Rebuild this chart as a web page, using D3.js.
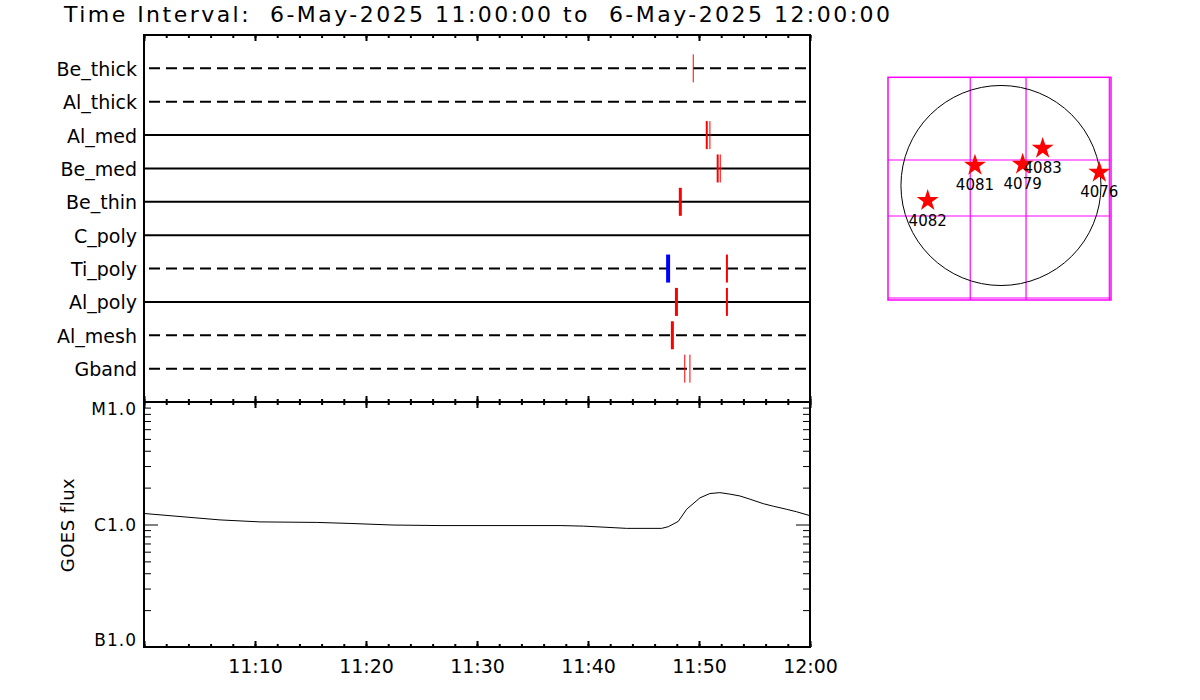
<!DOCTYPE html>
<html>
<head>
<meta charset="utf-8">
<script src="https://cdn.jsdelivr.net/npm/d3@7"></script>
<style>
  html, body { margin: 0; padding: 0; background: #ffffff; }
  svg { display: block; font-family: "DejaVu Sans", sans-serif; }
</style>
</head>
<body>
<svg id="chart" width="1200" height="700"></svg>
<script>
// ---------------- data ----------------
const titleText = "Time Interval:  6-May-2025 11:00:00 to  6-May-2025 12:00:00";
const timeStart = "2025-05-06 11:00:00";
const timeEnd = "2025-05-06 12:00:00";

// filter rows (top to bottom) and whether drawn dashed
const filterNames = ["Be_thick", "Al_thick", "Al_med", "Be_med", "Be_thin", "C_poly", "Ti_poly", "Al_poly", "Al_mesh", "Gband"];
const filterDashed = [true, true, false, false, false, false, true, false, true, true];

// exposure events per filter
const eventFilter = ["Be_thick", "Al_med", "Al_med", "Be_med", "Be_med", "Be_thin", "Ti_poly", "Ti_poly", "Al_poly", "Al_poly", "Al_mesh", "Gband", "Gband"];
const eventTime = ["11:49:29", "11:50:42", "11:50:59", "11:51:41", "11:51:55", "11:48:19", "11:47:13", "11:52:31", "11:47:58", "11:52:31", "11:47:36", "11:48:43", "11:49:11"];
const eventWeight = [1, 2, 1, 2, 1, 3, 4, 2, 3, 2, 3, 1, 1];
const eventColor = ["red", "red", "red", "red", "red", "red", "blue", "red", "red", "red", "red", "red", "red"];

// GOES flux (W/m^2)
const goesTime = ["11:00:00", "11:06:51", "11:10:27", "11:15:34", "11:18:34", "11:22:26", "11:26:40", "11:37:29", "11:39:35", "11:41:32", "11:43:29", "11:46:38", "11:47:14", "11:48:08", "11:48:53", "11:50:05", "11:50:59", "11:51:53", "11:52:47", "11:53:41", "11:54:35", "11:55:47", "11:56:42", "11:57:54", "11:58:48", "12:00:00"];
const goesFlux = [1.23e-6, 1.09e-6, 1.05e-6, 1.04e-6, 1.02e-6, 0.99e-6, 0.98e-6, 0.98e-6, 0.97e-6, 0.95e-6, 0.93e-6, 0.93e-6, 0.96e-6, 1.06e-6, 1.33e-6, 1.65e-6, 1.79e-6, 1.82e-6, 1.77e-6, 1.71e-6, 1.61e-6, 1.48e-6, 1.41e-6, 1.33e-6, 1.27e-6, 1.18e-6];
const goesClassValues = [1e-7, 1e-6, 1e-5];
const goesClassLabels = ["B1.0", "C1.0", "M1.0"];
const xTickLabels = ["11:10", "11:20", "11:30", "11:40", "11:50", "12:00"];

// solar map (arcsec)
const mapXDomain = [-1073, 1045];
const mapYDomain = [-1088, 1028];
const solarRadius = 950;
const mapGridX = [-292, 238, 1029];
const mapGridY = [242, -290, -1069];
const regionNumbers = ["4082", "4081", "4079", "4083", "4076"];
const regionX = [-696, -247, 206, 396, 934];
const regionY = [-143, 191, 201, 352, 125];

// ---------------- drawing ----------------
const svg = d3.select("#chart");
const parseFull = d3.utcParse("%Y-%m-%d %H:%M:%S");
const day = "2025-05-06 ";
const parseT = s => parseFull(day + s);

const L = 144, R = 810, T1 = 35, B1 = 402, B2 = 647;

const x = d3.scaleUtc().domain([parseFull(timeStart), parseFull(timeEnd)]).range([L, R]);
const yRow = d3.scalePoint().domain(filterNames).range([T1, B1]).padding(1);
const yG = d3.scaleLog().domain([1e-7, 1e-5]).range([B2, B1]);

// title
svg.append("text")
  .attr("x", 64).attr("y", 22)
  .attr("font-size", 22)
  .attr("textLength", 826).attr("lengthAdjust", "spacing")
  .style("white-space", "pre")
  .attr("xml:space", "preserve")
  .text(titleText);

// filter lines
const rows = svg.append("g");
filterNames.forEach((name, i) => {
  const yy = yRow(name);
  rows.append("line")
    .attr("x1", filterDashed[i] ? L + 5 : L).attr("x2", filterDashed[i] ? R - 3 : R)
    .attr("y1", yy).attr("y2", yy)
    .attr("stroke", "#000").attr("stroke-width", 2)
    .attr("stroke-dasharray", filterDashed[i] ? "11,6" : null);
  rows.append("text")
    .attr("x", 137).attr("y", yy + 7.5)
    .attr("text-anchor", "end").attr("font-size", 19)
    .text(name);
});

// events
const halfH = yRow.step() * 0.42;
svg.append("g").selectAll("line")
  .data(eventFilter.map((f, i) => ({ f, t: parseT(eventTime[i]), w: eventWeight[i], c: eventColor[i] })))
  .join("line")
  .attr("x1", d => x(d.t)).attr("x2", d => x(d.t))
  .attr("y1", d => yRow(d.f) - halfH).attr("y2", d => yRow(d.f) + halfH)
  .attr("stroke", d => d.c === "blue" ? "#0000ff" : "#ff0000")
  .attr("stroke-width", d => d.w);

// GOES curve
const goes = goesTime.map((t, i) => ({ t: parseT(t), v: goesFlux[i] }));
svg.append("path")
  .datum(goes)
  .attr("fill", "none").attr("stroke", "#000").attr("stroke-width", 1)
  .attr("d", d3.line().x(d => x(d.t)).y(d => yG(d.v)));

// frames
svg.append("rect").attr("x", L).attr("y", T1).attr("width", R - L).attr("height", B1 - T1)
  .attr("fill", "none").attr("stroke", "#000").attr("stroke-width", 2);
svg.append("rect").attr("x", L).attr("y", B1).attr("width", R - L).attr("height", B2 - B1)
  .attr("fill", "none").attr("stroke", "#000").attr("stroke-width", 2);

// time ticks
function timeTicks(yPos, dir, size, every) {
  const ax = (dir === "down" ? d3.axisTop(x) : d3.axisBottom(x))
    .ticks(d3.utcMinute.every(every)).tickSize(-size).tickFormat("");
  const g = svg.append("g").attr("transform", `translate(0,${yPos})`).call(ax);
  g.select(".domain").remove();
  g.selectAll(".tick line").attr("stroke-width", 2);
}
[[T1, "down"], [B1, "up"], [B1, "down"], [B2, "up"]].forEach(([yy, d]) => {
  timeTicks(yy, d, 3, 2);
  timeTicks(yy, d, 6, 10);
});

// time labels
const xLab = svg.append("g").attr("transform", `translate(0,${B2})`)
  .call(d3.axisBottom(x).tickValues(xTickLabels.map(s => parseT(s + ":00")))
    .tickFormat(d3.utcFormat("%H:%M")).tickSize(0).tickPadding(13));
xLab.select(".domain").remove();
xLab.selectAll("text").attr("font-size", 19).attr("font-family", "DejaVu Sans, sans-serif").attr("fill", "#000");

// GOES y ticks (left & right, inward)
const allLog = yG.ticks();
function logTicks(side) {
  const isLeft = side === "left";
  const major = goesClassValues;
  const minor = allLog.filter(v => !major.some(m => Math.abs(m - v) / m < 1e-6));
  const axMinor = (isLeft ? d3.axisLeft(yG) : d3.axisRight(yG)).tickValues(minor).tickSize(-7).tickFormat("");
  const axMajor = (isLeft ? d3.axisLeft(yG) : d3.axisRight(yG)).tickValues(major).tickSize(-14).tickFormat("");
  [axMinor, axMajor].forEach(ax => {
    const g = svg.append("g").attr("transform", `translate(${isLeft ? L : R},0)`).call(ax);
    g.select(".domain").remove();
    g.selectAll(".tick line").attr("stroke-width", 1);
  });
}
logTicks("left");
logTicks("right");

const labelDy = [-1, 6.5, 13];
svg.append("g").selectAll("text")
  .data(goesClassValues)
  .join("text")
  .attr("x", 137)
  .attr("y", (d, i) => yG(d) + labelDy[i])
  .attr("text-anchor", "end").attr("font-size", 17).attr("letter-spacing", 1)
  .text((d, i) => goesClassLabels[i]);

svg.append("text")
  .attr("transform", `translate(73.5,525) rotate(-90)`)
  .attr("text-anchor", "middle").attr("font-size", 18).attr("letter-spacing", 0.5)
  .text("GOES flux");

// ---------------- solar map ----------------
const mx = d3.scaleLinear().domain(mapXDomain).range([888, 1111]);
const my = d3.scaleLinear().domain(mapYDomain).range([300, 77.3]);
const mg = svg.append("g");
mg.append("rect")
  .attr("x", mx(mapXDomain[0])).attr("y", my(mapYDomain[1]))
  .attr("width", mx(mapXDomain[1]) - mx(mapXDomain[0]))
  .attr("height", my(mapYDomain[0]) - my(mapYDomain[1]))
  .attr("fill", "none").attr("stroke", "#ff00ff").attr("stroke-width", 1.5);
mapGridX.forEach(v => mg.append("line")
  .attr("x1", mx(v)).attr("x2", mx(v)).attr("y1", my(mapYDomain[0])).attr("y2", my(mapYDomain[1]))
  .attr("stroke", "#ff00ff").attr("stroke-width", 1.2));
mapGridY.forEach(v => mg.append("line")
  .attr("y1", my(v)).attr("y2", my(v)).attr("x1", mx(mapXDomain[0])).attr("x2", mx(mapXDomain[1]))
  .attr("stroke", "#ff00ff").attr("stroke-width", 1.2));
mg.append("circle")
  .attr("cx", mx(0)).attr("cy", my(0))
  .attr("r", mx(solarRadius) - mx(0))
  .attr("fill", "none").attr("stroke", "#000").attr("stroke-width", 1);

const star = d3.symbol().type(d3.symbolStar).size(150);
regionNumbers.forEach((n, i) => {
  mg.append("path")
    .attr("d", star())
    .attr("transform", `translate(${mx(regionX[i])},${my(regionY[i])})`)
    .attr("fill", "#ff0000");
});
regionNumbers.forEach((n, i) => {
  mg.append("text")
    .attr("x", mx(regionX[i])).attr("y", my(regionY[i]) + 25)
    .attr("text-anchor", "middle").attr("font-size", 15)
    .text(n);
});
</script>
</body>
</html>
